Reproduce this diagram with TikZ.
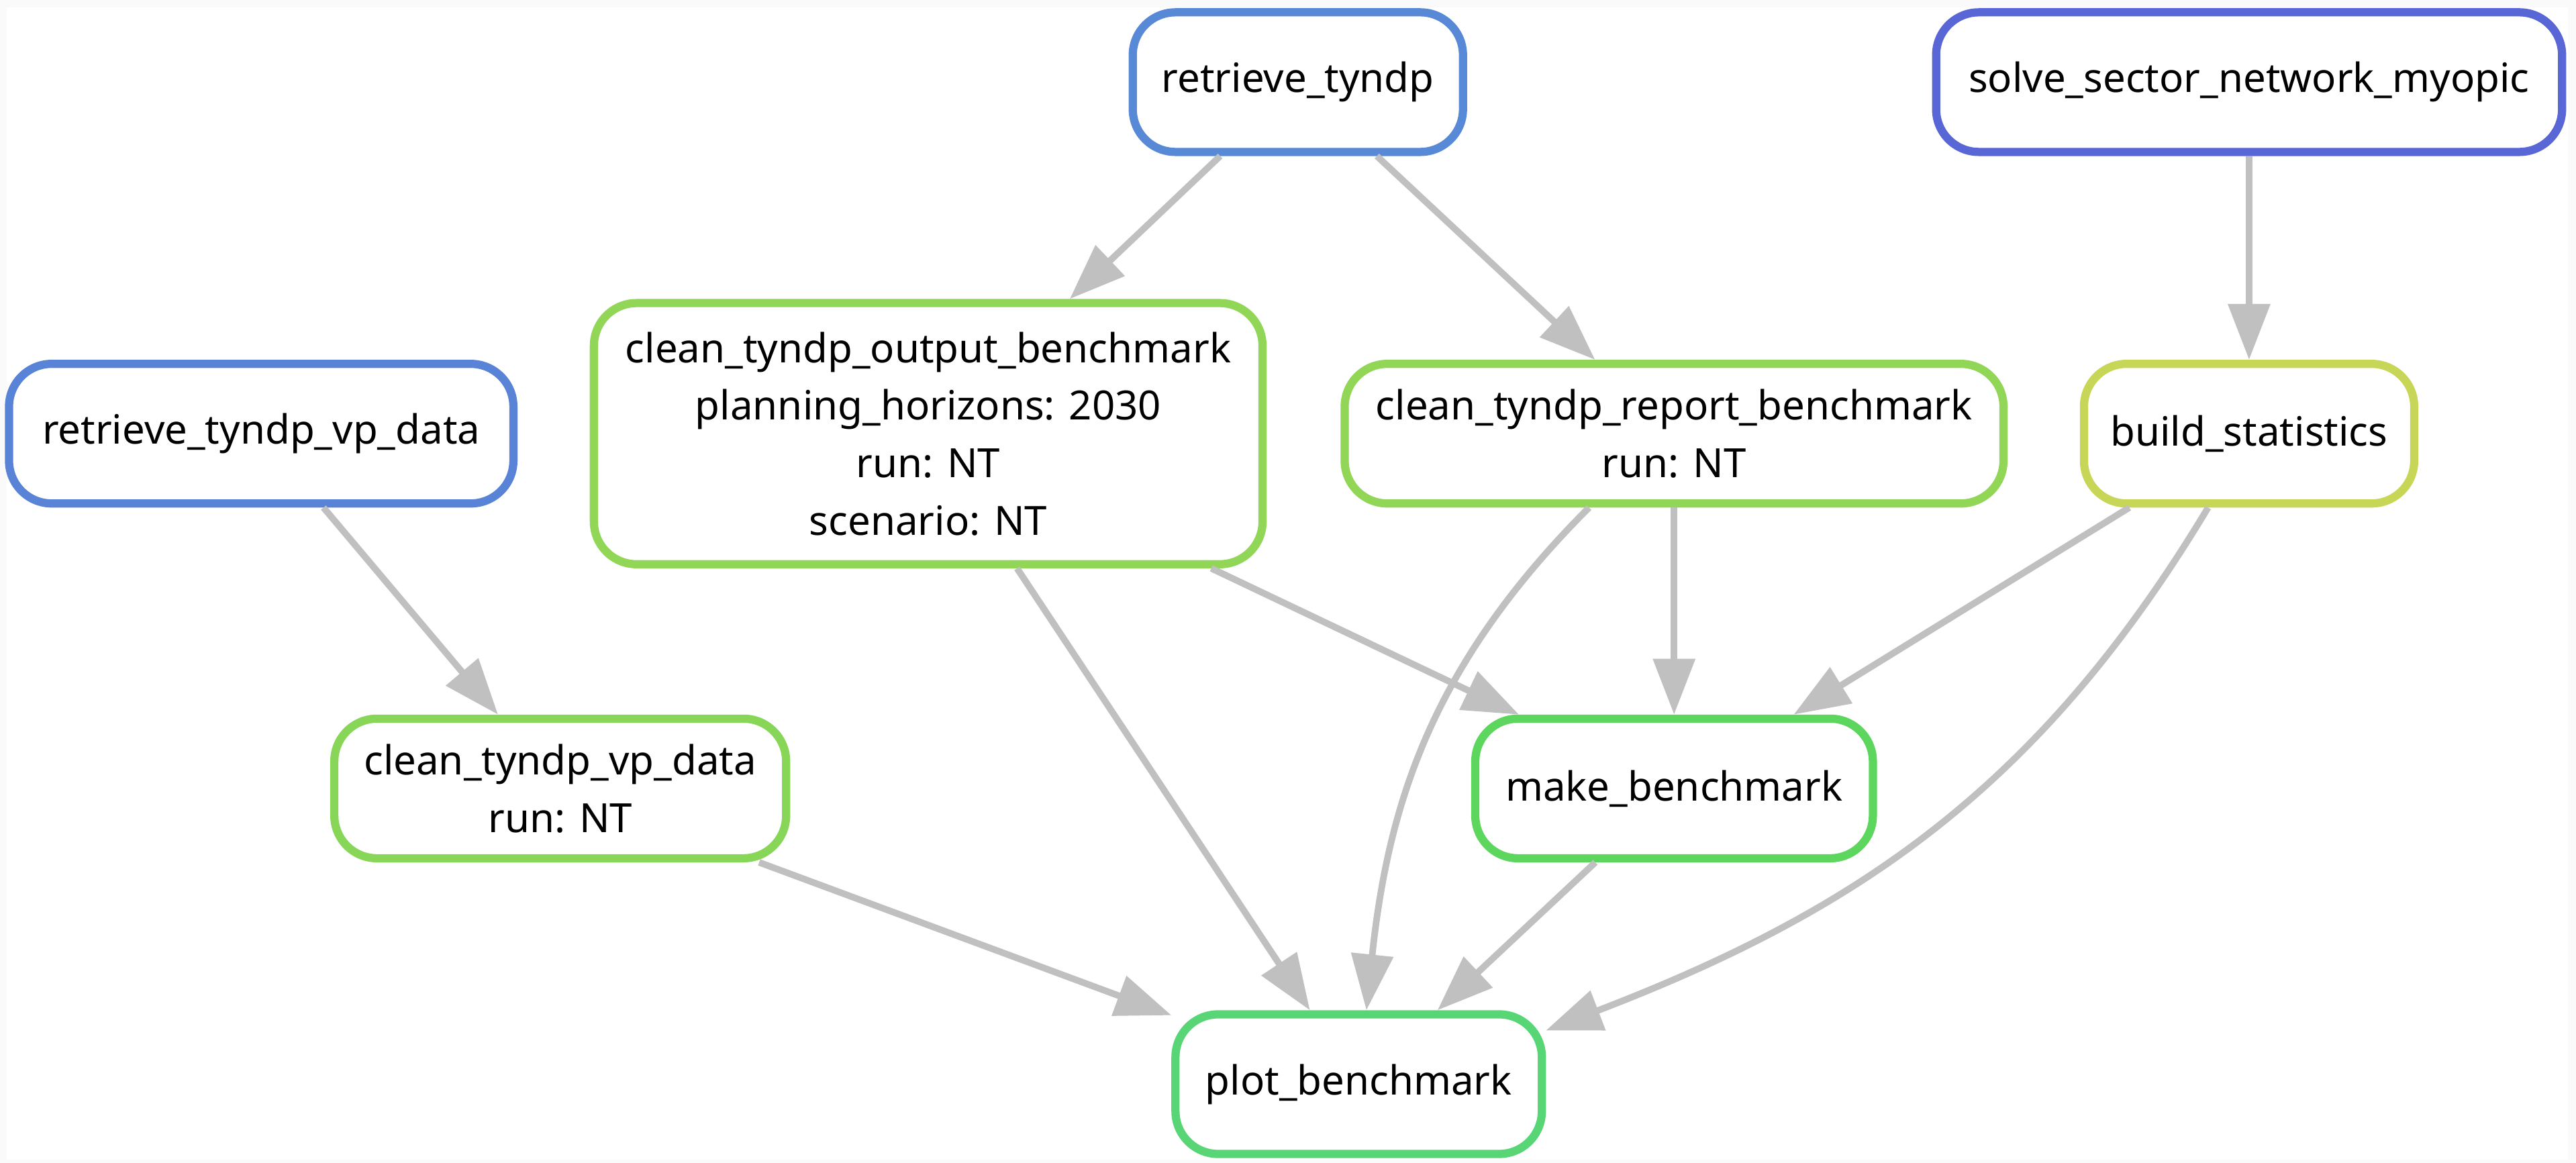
\documentclass[tikz,border=0pt]{standalone}
\usepackage{fontspec}
\setmainfont{Noto Sans}
\usepackage{tikz}
\usetikzlibrary{arrows.meta, positioning}
\definecolor{edgegray}{HTML}{C0C0C0}
\definecolor{pagegray}{HTML}{FAFAFA}
\definecolor{fetchblue}{HTML}{5889D6}
\definecolor{fetchvp}{HTML}{5883D6}
\definecolor{solveblue}{HTML}{5866D6}
\definecolor{cleangreen}{HTML}{92D658}
\definecolor{cleanvpgreen}{HTML}{88D658}
\definecolor{makegreen}{HTML}{5CD65C}
\definecolor{plotgreen}{HTML}{58D676}
\definecolor{statsyellow}{HTML}{C8D658}

\begin{document}
\begin{tikzpicture}[
  x=1pt, y=-1pt,
  node distance=124pt,
  job/.style={draw=#1, fill=white, line width=5pt, rounded corners=26pt, minimum height=85pt, inner sep=0pt, align=center, font=\fontsize{24.5}{35}\selectfont},
  dep/.style={draw=edgegray, line width=4pt, -{Triangle[length=34pt, width=25pt]}}
]
\fill[pagegray] (0,0) rectangle (1568,708);
\fill[white] (4,4.5) rectangle (1563,706);

\node[job=fetchblue, minimum width=201pt] (tyndp) at (790,50) {retrieve\_tyndp};
\node[job=solveblue, minimum width=381pt] (solve) at (1369,50) {solve\_sector\_network\_myopic};
\node[job=fetchvp, minimum width=307pt] (vpdata) at (159,264) {retrieve\_tyndp\_vp\_data};
\node[job=cleangreen, minimum width=407pt, minimum height=159pt] (output) at (565,264) {clean\_tyndp\_output\_benchmark\\planning\_horizons: 2030\\run: NT\\scenario: NT};
\node[job=cleangreen, minimum width=401pt] (report) at (1019,264) {clean\_tyndp\_report\_benchmark\\run: NT};
\node[job=statsyellow, minimum width=201pt, below=of solve] (stats) {build\_statistics};
\node[job=cleanvpgreen, minimum width=275pt] (cleanvp) at (341,480) {clean\_tyndp\_vp\_data\\run: NT};
\node[job=makegreen, minimum width=242pt, below=126pt of report] (make) {make\_benchmark};
\node[job=plotgreen, minimum width=223pt] (plot) at (827,660) {plot\_benchmark};

\draw[dep] (tyndp) -- (output);
\draw[dep] (tyndp) -- (report);
\draw[dep] (solve) -- (stats);
\draw[dep] (vpdata) -- (cleanvp);
\draw[dep] (output) -- (make);
\draw[dep] (output) -- (plot);
\draw[dep] (report) -- (make);
\draw[dep] (report.221) to[out=225, in=84] (plot.84);
\draw[dep] (stats) -- (make);
\draw[dep] (stats.241) to[out=239, in=21] (plot.16);
\draw[dep] (cleanvp) -- (plot);
\draw[dep] (make) -- (plot);
\end{tikzpicture}
\end{document}
